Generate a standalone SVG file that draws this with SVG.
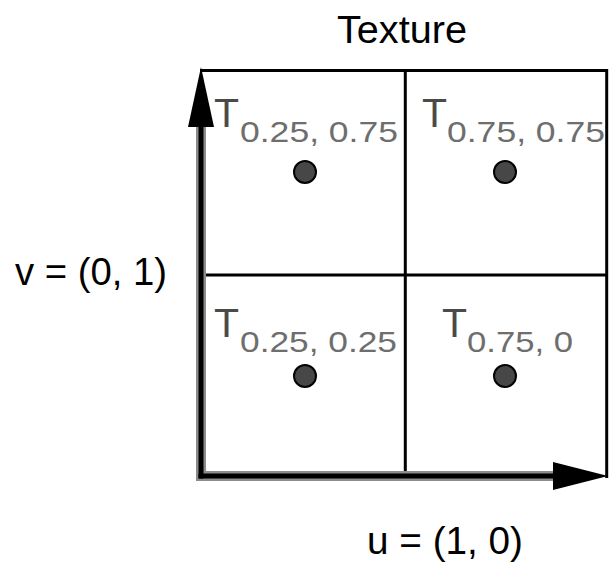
<svg xmlns="http://www.w3.org/2000/svg" width="610" height="562" viewBox="0 0 610 562">
<style>
  .grid { stroke:#000; stroke-width:3; fill:none; }
  .axis-shadow { stroke:#8c8c8c; stroke-width:10; fill:none; }
  .axis { stroke:#000; stroke-width:5; fill:none; }
  .lbl { font-family:"Liberation Sans", Arial, sans-serif; fill:#000; font-size:38px; }
  .T { font-family:"Liberation Sans", Arial, sans-serif; fill:#4a4a4a; font-size:41px; }
  .sub { font-family:"Liberation Sans", Arial, sans-serif; fill:#6e6e6e; font-size:30px; }
  .dot { fill:#474747; stroke:#000; stroke-width:2; }
</style>
<rect width="610" height="562" fill="#fff"/>
<g id="grid">
  <line class="grid" x1="200" y1="70.5" x2="608" y2="70.5"/>
  <line class="grid" x1="606.7" y1="69" x2="606.7" y2="478"/>
  <line class="grid" x1="405.3" y1="69" x2="405.3" y2="478"/>
  <line class="grid" x1="200" y1="275" x2="607" y2="275"/>
</g>
<g id="cell-tl">
  <text class="T" x="214" y="127">T</text>
  <text class="sub" x="240" y="142" textLength="158" lengthAdjust="spacingAndGlyphs">0.25, 0.75</text>
  <circle class="dot" cx="305" cy="172" r="11"/>
</g>
<g id="cell-tr">
  <text class="T" x="422" y="127">T</text>
  <text class="sub" x="447" y="142" textLength="158" lengthAdjust="spacingAndGlyphs">0.75, 0.75</text>
  <circle class="dot" cx="505" cy="172" r="11"/>
</g>
<g id="cell-bl">
  <text class="T" x="214" y="337">T</text>
  <text class="sub" x="240" y="352" textLength="157" lengthAdjust="spacingAndGlyphs">0.25, 0.25</text>
  <circle class="dot" cx="305" cy="376" r="11"/>
</g>
<g id="cell-br">
  <text class="T" x="442" y="337">T</text>
  <text class="sub" x="467" y="352" textLength="106" lengthAdjust="spacingAndGlyphs">0.75, 0</text>
  <circle class="dot" cx="505" cy="376" r="11"/>
</g>
<g id="connectors">
  <line class="axis-shadow" x1="201" y1="481" x2="201" y2="120"/>
  <line class="axis-shadow" x1="196" y1="476" x2="560" y2="476"/>
  <line class="axis" x1="201" y1="478.5" x2="201" y2="120"/>
  <line class="axis" x1="198.5" y1="476" x2="560" y2="476"/>
  <polygon points="201,67 214,127 188,127" fill="#000"/>
  <polygon points="608,476 553,462 553,490" fill="#000"/>
</g>
<g id="labels">
  <text class="lbl" x="337" y="43" textLength="130" lengthAdjust="spacingAndGlyphs">Texture</text>
  <text class="lbl" x="15" y="285" textLength="152" lengthAdjust="spacingAndGlyphs">v = (0, 1)</text>
  <text class="lbl" x="367" y="554" textLength="156" lengthAdjust="spacingAndGlyphs">u = (1, 0)</text>
</g>
</svg>
